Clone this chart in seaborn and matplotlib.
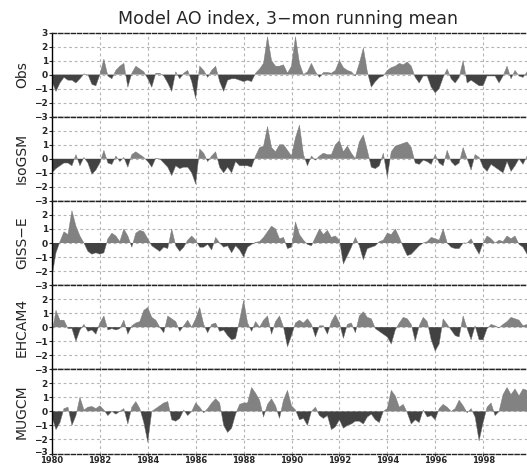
import numpy as np
import pandas as pd
import seaborn as sns
import matplotlib.pyplot as plt
from matplotlib.transforms import ScaledTranslation

# bimonthly samples, 1980.0 .. 2000.0
obs = [
    -0.5, -1.2, -0.6, -0.2, -0.4, -0.4,
    -0.6, -0.3, 0.05, 0.0, -0.7, -0.8,
    0.0, 1.1, -0.1, -0.3, 0.3, 0.6,
    0.8, -0.9, 0.1, 0.6, 0.4, 0.2,
    -0.3, -0.9, 0.1, 0.1, -0.1, -0.6,
    -1.2, 0.2, -0.3, 0.1, 0.3, -0.5,
    -1.7, 0.6, 0.3, -0.2, 0.3, 0.6,
    -0.5, -1.2, -0.4, -0.3, -0.3, -0.4,
    -0.5, -0.4, -0.5, 0.1, 0.4, 0.8,
    2.7, 1.0, 0.6, 0.6, 0.7, 0.1,
    0.6, 2.7, 0.8, 0.0, 0.2, 0.8,
    0.2, -0.2, 0.15, 0.15, 0.1, 0.3,
    1.0, 0.5, 0.3, 0.2, -0.1, 0.8,
    1.9, 0.2, -0.9, -0.5, -0.2, -0.1,
    0.3, 0.5, 0.6, 0.8, 0.7, 0.9,
    0.6, -0.2, -0.6, -0.1, -0.1, -0.9,
    -1.3, -1.0, -0.2, 0.4, -0.3, -0.6,
    -0.2, 1.0, -0.6, -0.4, -0.6, -0.8,
    -0.8, -0.1, -0.1, -0.1, -0.6, -0.1,
    0.6, -0.3, 0.3, -0.1, -0.2, 0.2,
    0.2,
]
isogsm = [
    -1.0, -0.7, -0.5, -0.3, -0.3, -0.5,
    0.3, -0.5, 0.1, -0.3, -1.1, -0.8,
    -0.3, 0.6, -0.3, -0.4, 0.2, -0.2,
    0.1, -0.6, 0.3, 0.5, 0.3, 0.1,
    -0.2, -0.6, 0.05, 0.0, -0.3, -0.6,
    -1.2, -0.5, -0.7, -0.6, -0.6, -1.0,
    -1.8, 0.7, 0.4, -0.2, 0.2, 0.5,
    -0.6, -1.0, -0.6, -1.0, -0.2, -0.5,
    -0.5, -0.5, -0.6, 0.2, 0.8, 0.9,
    2.3, 0.8, 0.5, 1.0, 1.0, 0.6,
    0.2, 1.5, 2.4, 0.3, -0.5, 0.2,
    -0.1, 0.2, 0.4, 0.3, 0.3, 1.0,
    1.3, 0.5, 0.9, 0.4, 0.0, 1.2,
    1.7, 0.6, -0.6, -0.7, -0.5, 0.4,
    -1.3, 0.5, 0.9, 1.0, 1.1, 1.2,
    0.8, -0.3, -0.4, -0.1, -0.2, -0.4,
    0.3, -0.3, -0.5, 0.6, -0.2, -0.5,
    -0.3, 0.8, 0.0, -0.8, 0.3, 0.1,
    -0.6, -0.9, -0.4, -0.6, -0.8, -1.0,
    -0.2, -0.9, -0.5, 0.0, -0.4, 0.2,
    0.2,
]
giss = [
    -2.4, -0.7, 0.1, 0.8, 0.6, 2.3,
    1.2, 0.5, 0.0, -0.6, -0.8, -0.7,
    -0.8, -0.7, 0.3, 0.7, 0.5, 0.1,
    1.0, 0.5, -0.3, 0.7, 0.9, 0.8,
    0.3, -0.2, -0.4, -0.6, -0.3, -0.4,
    1.0, -0.2, -0.6, -0.3, 0.2, 0.5,
    0.2, -0.3, -0.3, -0.1, -0.5, 0.4,
    0.0, -0.3, -0.2, -0.7, -0.2, -0.5,
    -1.0, -0.3, -0.1, 0.05, 0.1, 0.4,
    0.8, 1.2, 1.0, 0.3, 0.4, -0.4,
    -0.3, 1.5, 0.6, 0.2, -0.1, -0.2,
    0.4, 1.0, 0.6, 0.9, 0.4, 0.5,
    0.2, -1.5, -0.9, -0.3, 0.4, -0.2,
    -1.2, -0.4, -0.3, -0.2, 0.1, 0.2,
    0.7, 0.6, 1.0, 0.4, -0.3, -0.9,
    -0.8, -0.5, -0.2, 0.0, 0.1, 0.4,
    0.3, 0.2, 1.0, 0.0, -0.3, -0.4,
    -0.4, 0.0, 0.0, 0.3, -0.3, -0.8,
    0.0, 0.5, 0.3, 0.0, 0.2, 0.1,
    0.5, 0.3, 0.5, -0.1, -0.3, -0.8,
    -0.5,
]
ehcam4 = [
    -0.5, 1.2, 0.5, 0.5, -0.1, -0.1,
    -1.0, -0.2, 0.2, -0.3, -0.2, -0.5,
    0.3, 0.8, -0.2, -0.1, -0.2, -0.1,
    0.5, -0.5, 0.1, 0.3, 0.4, 1.2,
    1.4, 0.7, 0.5, 0.0, -0.4, 0.8,
    0.6, 0.4, -0.3, 0.1, 0.5, 0.0,
    0.6, 1.4, 0.2, -0.4, 0.2, 0.3,
    -0.3, -0.2, -0.6, -0.9, -0.8, 0.5,
    1.9, 0.3, -0.3, 0.4, 0.0, 0.5,
    0.8, -0.5, 0.4, 0.8, 0.0, -1.4,
    -0.6, 0.3, 0.5, 0.3, 0.6, 0.2,
    -0.7, 0.1, 0.1, -0.5, 0.4, 0.9,
    0.3, -0.8, 0.2, 0.3, -0.4, 0.8,
    1.1, 0.7, 0.6, -0.1, -0.3, -0.5,
    -0.7, -1.2, -0.2, 0.3, 0.7, 0.6,
    0.2, -1.0, 0.1, 0.7, 0.4, -0.9,
    -1.7, -1.2, 0.6, 0.2, -0.2, -0.6,
    -0.7, 0.8, -0.1, -0.9, 0.1, -0.9,
    -0.9, -0.1, 0.2, 0.1, -0.05, 0.2,
    0.4, 0.7, 0.6, 0.5, 0.1, 0.2,
    0.2,
]
mugcm = [
    -0.4, -1.3, -0.8, 0.2, 0.3, -1.0,
    -0.3, 1.0, 0.1, 0.3, 0.35, 0.2,
    0.4, 0.1, -0.3, 0.0, -0.2, 0.0,
    0.2, -0.9, 0.3, 0.7, 0.2, -0.8,
    -2.2, 0.0, 0.2, 0.4, 0.6, 0.7,
    -0.6, -0.7, -0.5, 0.1, -0.3, 0.0,
    0.6, 0.3, -0.1, 0.2, 0.6, 0.9,
    0.6, -1.0, -1.5, -1.2, -0.2, 0.5,
    0.6, 0.6, 1.7, 1.3, 0.8, -0.4,
    0.5, 0.9, 0.4, -0.5, 0.8, 1.5,
    0.4, 0.1, -0.6, -0.5, -1.0, 0.0,
    0.3, -0.3, -0.5, -0.3, -1.3, -1.1,
    -0.6, -1.2, -1.0, -0.9, -0.7, -0.7,
    -0.9, -0.4, -0.2, -0.6, -0.8, 0.0,
    0.2, 1.5, 1.1, 0.3, 0.5, -0.1,
    -0.9, -0.6, -0.8, 0.1, -0.4, -0.3,
    -0.6, 0.2, 0.5, 0.3, 0.0, 0.2,
    0.8, 0.4, -0.1, 0.2, -0.4, -2.1,
    -0.8, 0.3, 0.6, -0.3, 0.0, 1.2,
    1.7, 1.2, 1.6, 1.1, 1.6, 1.5,
    1.5,
]

names = ["Obs", "IsoGSM", "GISS\u2212E", "EHCAM4", "MUGCM"]
series = [obs, isogsm, giss, ehcam4, mugcm]
years = 1980 + np.arange(len(obs)) / 6.0

sns.set_style("white")
plt.rcParams["font.family"] = ["DejaVu Sans"]

W, H = 527, 466
fig = plt.figure(figsize=(W / 100, H / 100), dpi=100)

pos_col = "#828282"
neg_col = "#424242"
top_px = 32.5
ph = 84.2
x0, x1 = 52, 531

for i, (name, vals) in enumerate(zip(names, series)):
    t = top_px + i * ph
    ax = fig.add_axes([x0 / W, 1 - (t + ph) / H, (x1 - x0) / W, ph / H])
    df = pd.DataFrame({"year": years, "val": vals})
    v = df["val"].to_numpy()
    ax.fill_between(df["year"], 0, v, where=v >= 0, interpolate=True,
                    color=pos_col, lw=0)
    ax.fill_between(df["year"], 0, v, where=v <= 0, interpolate=True,
                    color=neg_col, lw=0)
    sns.lineplot(data=df, x="year", y="val", ax=ax, color="#777777", lw=0.3)
    ax.set_xlim(1980, 2000)
    ax.set_ylim(-3, 3)
    for yy in [-2, -1, 0, 1, 2]:
        ax.axhline(yy, color="#b4b4b4", lw=0.8, ls=(0, (2.5, 2.5)), zorder=0)
    for xx in range(1982, 2000, 2):
        ax.axvline(xx, color="#b4b4b4", lw=0.8, ls=(0, (2.5, 2.5)), zorder=0)
    ax.set_ylabel("")
    ax.set_xlabel("")
    if i == 0:
        ax.set_yticks(range(-3, 4))
    else:
        ax.set_yticks(range(-3, 3))
    ax.set_yticklabels([str(k).replace("-", "\u2212") for k in ax.get_yticks().astype(int)],
                       fontsize=6.5, fontweight="bold")
    ax.tick_params(axis="y", length=2, width=0.8, pad=1, left=True)
    if i == len(names) - 1:
        ax.set_xticks(range(1980, 2000, 2))
        ax.set_xticklabels([str(y) for y in range(1980, 2000, 2)], fontsize=6,
                           fontweight="bold")
        ax.tick_params(axis="x", length=1.5, width=0.8, pad=0.5, bottom=True)
        # lift the lowest y label a touch so it clears the year labels
        lab = ax.get_yticklabels()[0]
        lab.set_transform(lab.get_transform()
                          + ScaledTranslation(0, 2 / 100, fig.dpi_scale_trans))
    else:
        ax.set_xticks([])
    ax.spines["left"].set_color("black")
    ax.spines["left"].set_linewidth(1.0)
    ax.spines["right"].set_visible(False)
    for s in ["top", "bottom"]:
        ax.spines[s].set_color("#222222")
        ax.spines[s].set_linewidth(1.0)
        ax.spines[s].set_linestyle((0, (3, 1.5)))
    fig.text(22 / W, 1 - (t + ph / 2) / H, name, rotation=90, ha="center",
             va="center", fontsize=10)

fig.text(287.5 / W, 1 - 19 / H, "Model AO index, 3\u2212mon running mean",
         ha="center", va="center", fontsize=12.5)

plt.savefig("out.png", dpi=100)
